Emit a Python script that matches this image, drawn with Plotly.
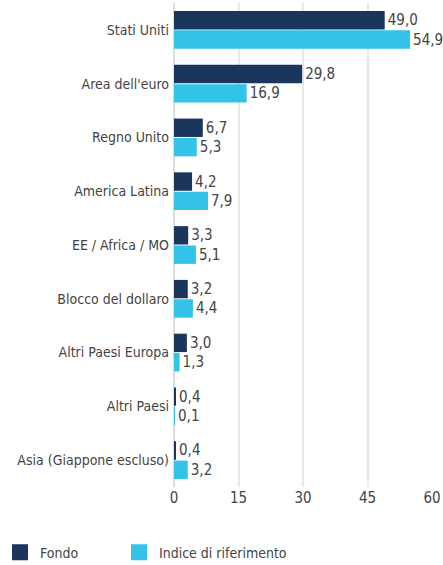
import plotly.graph_objects as go

categories = ["Stati Uniti", "Area dell'euro", "Regno Unito", "America Latina",
              "EE / Africa / MO", "Blocco del dollaro", "Altri Paesi Europa",
              "Altri Paesi", "Asia (Giappone escluso)"]
fondo = [49.0, 29.8, 6.7, 4.2, 3.3, 3.2, 3.0, 0.4, 0.4]
indice = [54.9, 16.9, 5.3, 7.9, 5.1, 4.4, 1.3, 0.1, 3.2]
x_ticks = [0, 15, 30, 45, 60]
series_names = ["Fondo", "Indice di riferimento"]
colors = ["#1b365d", "#34c3e8"]

FONT = "DejaVu Sans Condensed, Liberation Sans Narrow, sans-serif"

def fmt(v):
    return f"{v:.1f}".replace(".", ",")

fig = go.Figure()
for name, vals, col in zip(series_names, [fondo, indice], colors):
    fig.add_trace(go.Bar(y=categories, x=vals, orientation="h", name=name,
                         marker=dict(color=col, line=dict(width=0)),
                         text=[fmt(v) for v in vals], textposition="outside",
                         textfont=dict(color="#444444", size=15, family=FONT),
                         cliponaxis=False, showlegend=False, hoverinfo="skip"))
# legend-only entries with larger square swatches, one legend each
for i, (name, col) in enumerate(zip(series_names, colors)):
    fig.add_trace(go.Scatter(x=[None], y=[None], mode="markers", name=name,
                             marker=dict(symbol="square", size=16, color=col),
                             showlegend=True, legend="legend" if i == 0 else "legend2"))

leg_common = dict(orientation="h", xref="container", yref="container",
                  xanchor="left", y=0.05, yanchor="top",
                  font=dict(size=14, color="#444444", family=FONT),
                  itemwidth=30, bgcolor="rgba(0,0,0,0)")

fig.update_layout(
    width=443, height=565,
    margin=dict(l=174, r=11, t=3, b=78),
    barmode="group", bargap=0.28, bargroupgap=0.05,
    plot_bgcolor="white", paper_bgcolor="white",
    font=dict(family=FONT, color="#444444", size=14),
    showlegend=True,
    legend=dict(x=0.0, **leg_common),
    legend2=dict(x=119 / 443, **leg_common),
    xaxis=dict(range=[0, 60], tickvals=x_ticks, ticktext=[str(t) for t in x_ticks],
               showgrid=True, gridcolor="#e8e8e8", gridwidth=2,
               zeroline=True, zerolinecolor="#dddddd", zerolinewidth=2,
               tickfont=dict(size=15, color="#444444"), ticks="", showline=False,
               automargin=False, fixedrange=True),
    yaxis=dict(autorange="reversed", showgrid=False, ticks="", ticklen=0,
               tickfont=dict(size=14, color="#444444"), showline=False,
               automargin=False, ticksuffix=" ", fixedrange=True),
)
fig.write_html("out.html", config={"displayModeBar": False},
               post_script="document.body.style.margin='0';")
